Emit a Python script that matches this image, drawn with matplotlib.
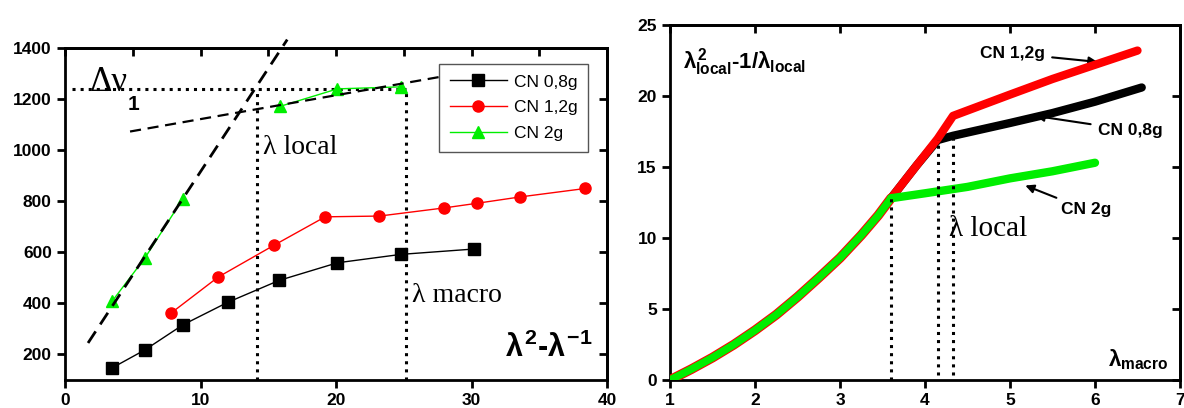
import matplotlib
matplotlib.use('Agg')
import matplotlib.pyplot as plt

plt.rcParams.update({
    'font.family': ['Liberation Sans', 'DejaVu Sans'],
    'font.weight': 'bold',
    'font.size': 12,
    'mathtext.fontset': 'custom',
    'mathtext.rm': 'Liberation Sans:bold',
    'mathtext.it': 'Liberation Sans:bold',
    'mathtext.bf': 'Liberation Sans:bold',
    'axes.linewidth': 2,
})

# ── Left panel data ────────────────────────────────────────────────────────
x_08 = [3.5, 5.9, 8.7, 12.0, 15.8, 20.1, 24.8, 30.2]
y_08 = [148, 218, 316, 404, 490, 559, 592, 613]

x_12 = [7.8, 11.3, 15.4, 19.2, 23.2, 28.0, 30.4, 33.6, 38.4]
y_12 = [361, 503, 627, 739, 742, 774, 792, 817, 850]

# CN 2g was measured in two separate runs (low strain / high strain)
x_2_low = [3.5, 5.9, 8.7]
y_2_low = [410, 578, 810]
x_2_high = [15.9, 20.1, 24.8]
y_2_high = [1172, 1240, 1248]

steep_x = [1.7, 16.4]
steep_y = [245, 1433]
flat_x = [4.8, 28.0]
flat_y = [1073, 1290]
dnu1 = 1240
lam_local_left = 14.2
lam_macro_left = 25.2

# ── Right panel data ───────────────────────────────────────────────────────
common_x = [1.0, 1.25, 1.5, 1.75, 2.0, 2.25, 2.5, 2.75, 3.0, 3.25, 3.45, 3.6]
common_y = [0.0, 0.76, 1.58, 2.49, 3.5, 4.6, 5.85, 7.2, 8.6, 10.2, 11.6, 12.8]

g2_x = [3.6, 4.0, 4.5, 5.0, 5.5, 6.0]
g2_y = [12.8, 13.15, 13.6, 14.2, 14.7, 15.3]

g12_x = [3.6, 3.9, 4.15, 4.33, 5.0, 5.5, 6.0, 6.5]
g12_y = [12.8, 15.1, 17.0, 18.6, 20.1, 21.2, 22.2, 23.2]

g08_x = [3.6, 3.9, 4.15, 4.33, 5.0, 5.5, 6.0, 6.55]
g08_y = [12.8, 15.1, 16.9, 17.2, 18.1, 18.8, 19.6, 20.6]

kinks_x = [3.6, 4.15, 4.33]
kinks_y = [12.8, 16.9, 17.2]

GREEN = '#00ee00'


def style_axes(ax):
    ax.tick_params(axis='both', which='both', direction='out', length=6, width=2,
                   labelsize=12.5)
    for lab in ax.get_xticklabels() + ax.get_yticklabels():
        lab.set_fontweight('bold')
    ax.secondary_xaxis('top').tick_params(direction='in', length=6, width=2, labeltop=False)
    ax.secondary_yaxis('right').tick_params(direction='in', length=6, width=2, labelright=False)


fig = plt.figure(figsize=(11.84, 4.08), dpi=100)

# ════════════════════════════════════════════════════════════════════════════
# Left panel
# ════════════════════════════════════════════════════════════════════════════
ax1 = fig.add_axes([0.0549, 0.0686, 0.4578, 0.8137])
ax1.plot(x_08, y_08, '-s', color='black', lw=1, ms=8, label='CN 0,8g', zorder=4)
ax1.plot(x_12, y_12, '-o', color='red', lw=1, ms=8, label='CN 1,2g', zorder=4)
ax1.plot(x_2_low, y_2_low, '-^', color=GREEN, lw=1, ms=8, label='CN 2g', zorder=4)
ax1.plot(x_2_high, y_2_high, '-^', color=GREEN, lw=1, ms=8, zorder=4)

ax1.plot(steep_x, steep_y, '--', color='black', lw=2, dashes=(5, 3), clip_on=False, zorder=5)
ax1.plot(flat_x, flat_y, '--', color='black', lw=1.6, dashes=(5, 3), zorder=5)
ax1.plot([0.5, lam_macro_left], [dnu1, dnu1], ':', color='black', lw=2.2, zorder=3)
ax1.plot([lam_local_left, lam_local_left], [100, dnu1], ':', color='black', lw=2.2, zorder=3)
ax1.plot([lam_macro_left, lam_macro_left], [100, dnu1], ':', color='black', lw=2.2, zorder=3)

ax1.text(1.8, 1232, 'Δν', family='Liberation Serif', fontsize=25,
         fontweight='normal', va='baseline', ha='left')
ax1.text(4.6, 1178, '1', fontsize=15, va='center', ha='left')
ax1.text(14.6, 1010, 'λ local', family='Liberation Serif', fontsize=20,
         fontweight='normal', va='center')
ax1.text(25.6, 430, 'λ macro', family='Liberation Serif', fontsize=20,
         fontweight='normal', va='center')
ax1.text(38.9, 225, r'$\lambda^{2}$-$\lambda^{-1}$', fontsize=22, ha='right', va='center')

leg = ax1.legend(loc='upper right', bbox_to_anchor=(0.965, 0.952), borderaxespad=0,
                 fontsize=12.5, frameon=True, fancybox=False, edgecolor='#555555',
                 framealpha=1, handlelength=3.3, handletextpad=0.4,
                 borderpad=0.6, labelspacing=0.62)
leg.get_frame().set_linewidth(1)
for t in leg.get_texts():
    t.set_fontweight('normal')
leg.set_zorder(10)

ax1.set_xlim(0, 40)
ax1.set_ylim(100, 1400)
ax1.set_xticks([0, 10, 20, 30, 40])
ax1.set_yticks([200, 400, 600, 800, 1000, 1200, 1400])
style_axes(ax1)

# ════════════════════════════════════════════════════════════════════════════
# Right panel
# ════════════════════════════════════════════════════════════════════════════
ax2 = fig.add_axes([0.5659, 0.0686, 0.4307, 0.8701])
ax2.plot(g08_x, g08_y, color='black', lw=6, solid_capstyle='round', zorder=3)
ax2.plot(g12_x, g12_y, color='red', lw=6, solid_capstyle='round', zorder=4)
ax2.plot(common_x, common_y, color='red', lw=7, solid_capstyle='round', zorder=4)
ax2.plot(common_x, common_y, color=GREEN, lw=5.5, solid_capstyle='round', zorder=5)
ax2.plot(g2_x, g2_y, color=GREEN, lw=6, solid_capstyle='round', zorder=5)

for kx, ky in zip(kinks_x, kinks_y):
    ax2.plot([kx, kx], [0.35 if kx > 4 else 0, ky], ':', color='black', lw=2.2, zorder=6)

arrow = dict(arrowstyle='-|>', color='black', lw=1.5, shrinkA=3, shrinkB=0)
ax2.annotate('CN 1,2g', xy=(6.03, 22.4), xytext=(4.65, 23.0), fontsize=12.5,
             va='center', arrowprops=arrow)
ax2.annotate('CN 0,8g', xy=(5.3, 18.6), xytext=(6.03, 17.6), fontsize=12.5,
             va='center', arrowprops=arrow)
ax2.annotate('CN 2g', xy=(5.18, 13.7), xytext=(5.6, 12.0), fontsize=12.5,
             va='center', arrowprops=arrow)

ax2.text(4.28, 10.6, 'λ local', family='Liberation Serif', fontsize=21,
         fontweight='normal', va='center')
ax2.text(1.15, 22.4, r'$\lambda^{2}_{local}$-1/$\lambda_{local}$', fontsize=16, va='center')
ax2.text(6.15, 1.4, r'$\lambda_{macro}$', fontsize=16, va='center')

ax2.set_xlim(1, 7)
ax2.set_ylim(0, 25)
ax2.set_xticks([1, 2, 3, 4, 5, 6, 7])
ax2.set_yticks([0, 5, 10, 15, 20, 25])
style_axes(ax2)

fig.savefig('out.png', dpi=100)
